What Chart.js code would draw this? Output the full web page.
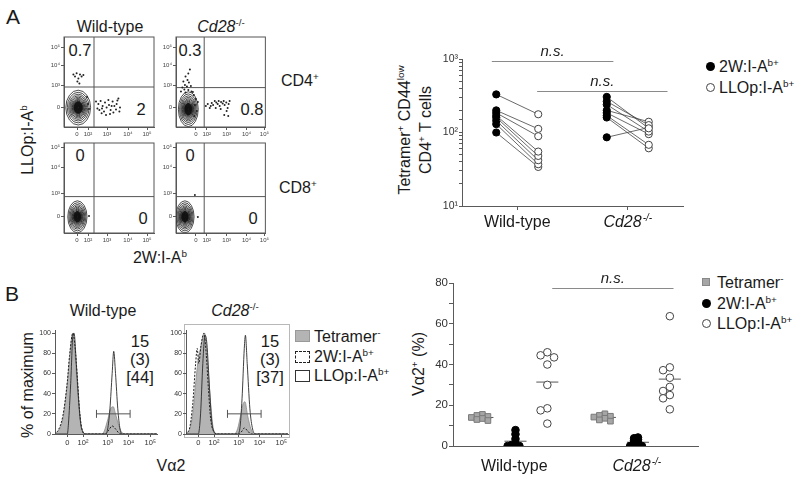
<!DOCTYPE html>
<html>
<head>
<meta charset="utf-8">
<title>2W and LLOp tetramer panels</title>
<script src="https://cdn.jsdelivr.net/npm/chart.js@4.4.1/dist/chart.umd.min.js"></script>
<style>
  body { margin: 0; width: 800px; height: 479px; position: relative; overflow: hidden; background: #fff;
         font-family: 'Liberation Sans', Arial, sans-serif; color: #1a1a1a; }
  canvas { position: absolute; }
  .c { position: absolute; white-space: nowrap; line-height: 1; transform: translate(-50%, -50%); }
  .l { position: absolute; white-space: nowrap; line-height: 1; transform: translateY(-50%); }
  .r { position: absolute; white-space: nowrap; line-height: 19px; text-align: center; transform: translate(-50%, -50%) rotate(-90deg); }
  sup { font-size: 62%; vertical-align: 0; position: relative; top: -0.6em; }
  .box { position: absolute; box-sizing: border-box; }
  .f16 { font-size: 16px; }
  .q { font-size: 16.5px; }
</style>
</head>
<body>

<!-- panel A -->
<div class="c" style="left:13px;top:16px;font-size:21px">A</div>
<div class="c f16" style="left:110px;top:27px">Wild-type</div>
<div class="c f16" style="left:221px;top:27px"><i>Cd28</i><sup>-/-</sup></div>
<div class="l f16" style="left:281px;top:81px">CD4<sup>+</sup></div>
<div class="l f16" style="left:279px;top:188px">CD8<sup>+</sup></div>
<div class="r f16" style="left:28px;top:140px">LLOp:I-A<sup>b</sup></div>
<div class="c f16" style="left:160px;top:258px">2W:I-A<sup>b</sup></div>

<div class="c q" style="left:80px;top:50px">0.7</div>
<div class="c q" style="left:141px;top:109px">2</div>
<div class="c q" style="left:190px;top:50px">0.3</div>
<div class="c q" style="left:252px;top:109px">0.8</div>
<div class="c q" style="left:80px;top:155px">0</div>
<div class="c q" style="left:143px;top:218px">0</div>
<div class="c q" style="left:190px;top:155px">0</div>
<div class="c q" style="left:253px;top:218px">0</div>

<div class="r f16" style="left:416px;top:130px">Tetramer<sup>+</sup> CD44<sup>low</sup><br>CD4<sup>+</sup> T cells</div>
<div class="box" style="left:706px;top:62px;width:9px;height:9px;border-radius:50%;background:#000"></div>
<div class="l f16" style="left:719px;top:67px">2W:I-A<sup>b+</sup></div>
<div class="box" style="left:706px;top:83px;width:9px;height:9px;border-radius:50%;border:1px solid #444"></div>
<div class="l f16" style="left:719px;top:88px">LLOp:I-A<sup>b+</sup></div>

<!-- panel B -->
<div class="c" style="left:12px;top:293px;font-size:21px">B</div>
<div class="c f16" style="left:103px;top:311px">Wild-type</div>
<div class="c f16" style="left:235px;top:311px"><i>Cd28</i><sup>-/-</sup></div>
<div class="r f16" style="left:27px;top:385px">% of maximum</div>
<div class="c f16" style="left:171px;top:466px">Vα2</div>
<div class="box" style="left:184px;top:324px;width:106px;height:114px;border:1.5px solid #b8b8b8"></div>

<div class="c q" style="left:140px;top:341px">15</div>
<div class="c q" style="left:140px;top:359px">(3)</div>
<div class="c q" style="left:140px;top:377px">[44]</div>
<div class="c q" style="left:270px;top:341px">15</div>
<div class="c q" style="left:270px;top:359px">(3)</div>
<div class="c q" style="left:270px;top:377px">[37]</div>

<div class="box" style="left:295px;top:330px;width:15px;height:12px;background:#b4b4b4;border:1px solid #999"></div>
<div class="l f16" style="left:314px;top:337px">Tetramer<sup>-</sup></div>
<div class="box" style="left:295px;top:351px;width:15px;height:12px;border:1.3px dashed #222"></div>
<div class="l f16" style="left:314px;top:357px">2W:I-A<sup>b+</sup></div>
<div class="box" style="left:295px;top:370px;width:15px;height:12px;border:1px solid #333"></div>
<div class="l f16" style="left:314px;top:376px">LLOp:I-A<sup>b+</sup></div>

<div class="r f16" style="left:419px;top:364px">Vα2<sup>+</sup> (%)</div>
<div class="box" style="left:702px;top:278px;width:8px;height:8px;background:#a6a6a6;border:1px solid #888"></div>
<div class="l f16" style="left:717px;top:283px">Tetramer<sup>-</sup></div>
<div class="box" style="left:702px;top:299px;width:9px;height:9px;border-radius:50%;background:#000"></div>
<div class="l f16" style="left:717px;top:304px">2W:I-A<sup>b+</sup></div>
<div class="box" style="left:702px;top:319px;width:9px;height:9px;border-radius:50%;border:1px solid #444"></div>
<div class="l f16" style="left:717px;top:324px">LLOp:I-A<sup>b+</sup></div>

<script>
// ---------- data ----------
// flow plots: axis positions in display units (one unit ~ a decade on the biexponential scale)
const flowXTicksWT = [0, 0.55, 1.5, 2.55, 3.5];
const flowXTicksKO = [0.35, 0.9, 1.9, 2.9, 3.8];
const flowXLabels = ['0', '10²', '10³', '10⁴', '10⁵'];
const flowYTicksCD4 = [0, 1.1, 2.1, 3.0];
const flowYTicksCD8 = [-0.15, 1.0, 2.3, 3.3];
const flowYLabels = ['0', '10³', '10⁴', '10⁵'];

// quadrant gates [x, y]
const gateWTcd4 = [0.85, 1.0];
const gateKOcd4 = [0.77, 0.97];
const gateWTcd8 = [0.85, 0.82];
const gateKOcd8 = [0.77, 0.82];

// main population contours: centre and outer half-widths
const contourWTcd4 = { center: [0.06, -0.03], radii: [0.62, 0.87] };
const contourKOcd4 = { center: [-0.03, -0.11], radii: [0.5, 0.87] };
const contourWTcd8 = { center: [0.02, -0.19], radii: [0.48, 0.8] };
const contourKOcd8 = { center: [-0.2, -0.19], radii: [0.46, 0.8] };
const contourLevels = [1, 0.88, 0.77, 0.68, 0.6, 0.53, 0.47, 0.42, 0.37, 0.33, 0.29, 0.25, 0.22, 0.19, 0.16, 0.13, 0.1, 0.07];

// events outside the contours
const dotsWTcd4 = [
  [-0.18, 1.63], [-0.02, 1.69], [0.15, 1.63], [0.32, 1.6], [-0.1, 1.52], [0.07, 1.43], [0.23, 1.52], [0.02, 1.27], [0.12, 1.18],
  [0.55, 0.15], [0.6, -0.1], [0.5, 0.5],
  [0.95, 0.27], [1.07, 0.15], [1.18, 0.3], [1.28, 0.05], [1.12, -0.15], [1.23, -0.31], [1.4, 0.22], [1.48, -0.02], [1.6, 0.1],
  [1.68, -0.15], [1.78, 0.27], [1.87, 0.05], [1.98, 0.15], [2.07, 0.43], [2.12, -0.23], [1.65, -0.35], [1.35, -0.23], [1.57, 0.35],
  [1.82, -0.28], [1.95, -0.12], [1.02, -0.07], [1.45, -0.4], [1.73, 0.05], [2.02, 0.32], [1.25, -0.08], [2.15, -0.02],
];
const dotsKOcd4 = [
  [0.05, 1.88], [-0.03, 1.68], [-0.17, 1.52], [-0.07, 1.35], [-0.28, 1.27], [0, 1.22], [-0.2, 1.1], [-0.1, 1.02], [-0.33, 0.98],
  [0.1, 1.05], [-0.23, 0.88], [-0.03, 0.85], [-0.4, 0.77], [0.13, 0.77], [-0.17, 0.72],
  [0.25, 0.6], [0.35, 0.4], [0.3, 0.1], [0.4, -0.2], [0.28, -0.45], [0.45, 0.25], [0.2, 0.75],
  [0.85, 0.05], [0.95, 0.15], [1.05, -0.05], [1.15, 0.2], [1.22, 0.1], [1.3, 0.3], [1.38, 0.22], [1.45, 0.15], [1.5, 0.3],
  [1.55, 0.05], [1.62, 0.25], [1.7, 0.18], [1.75, 0.3], [1.8, 0.1], [1.88, 0.22], [1.95, -0.05], [2.0, 0.15], [1.9, -0.2],
  [1.98, -0.45], [1.78, -0.4], [1.6, -0.1], [1.35, -0.05], [2.05, 0.3], [1.1, 0.05],
];
const dotsWTcd8 = [[0.6, -0.15]];
const dotsKOcd8 = [[0.45, -0.2], [0.3, 0.9]];

// paired counts, tetramer+ CD44low CD4+ T cells
const pairGroups = [['Wild-type', ''], ['Cd28', '-/-']];
const wt2W = [330, 200, 185, 170, 160, 145, 130, 100];
const wtLLO = [177, 112, 89, 55, 48, 42, 37, 34];
const ko2W = [305, 265, 240, 200, 185, 170, 160, 86];
const koLLO = [114, 126, 103, 140, 95, 68, 61, 117];
const pairYLabels = { 1: '10¹', 2: '10²', 3: '10³' };

// histograms: [position, % of maximum]
const histXTicks = [0, 0.7, 1.8, 2.73, 3.7];
const histXLabels = ['0', '10²', '10³', '10⁴', '10⁵'];
const histYTicks = [0, 20, 40, 60, 80, 100];
const histGate = [1.3, 2.8];
const histGateY = 20;
const wtHistTet = [[-0.6, 0], [-0.45, 2], [-0.3, 7], [-0.2, 15], [-0.1, 30], [0, 50], [0.1, 75], [0.2, 97], [0.25, 100], [0.3, 90],
  [0.4, 62], [0.5, 32], [0.6, 9], [0.7, 2], [0.85, 0], [1.55, 0], [1.65, 3], [1.8, 14], [1.95, 26], [2.05, 27], [2.15, 20],
  [2.3, 8], [2.45, 1], [2.6, 0], [4, 0]];
const wtHist2W = [[-0.6, 0], [-0.4, 4], [-0.2, 18], [0, 52], [0.1, 78], [0.25, 100], [0.35, 85], [0.45, 55], [0.55, 22], [0.65, 5],
  [0.8, 0], [1.7, 0], [1.85, 4], [2.0, 8], [2.15, 5], [2.3, 1], [2.5, 0], [4, 0]];
const wtHistLLO = [[-0.6, 0], [0, 0], [0.05, 10], [0.15, 50], [0.25, 98], [0.3, 100], [0.4, 70], [0.5, 35], [0.6, 10], [0.7, 2],
  [0.8, 0], [1.7, 0], [1.8, 5], [1.9, 25], [2.0, 60], [2.07, 82], [2.15, 60], [2.25, 25], [2.35, 5], [2.45, 0], [4, 0]];
const koHistTet = [[-0.6, 0], [-0.4, 4], [-0.25, 20], [-0.1, 55], [0, 75], [0.1, 85], [0.2, 96], [0.28, 100], [0.35, 90], [0.45, 60],
  [0.55, 30], [0.65, 8], [0.75, 1], [0.9, 0], [1.6, 0], [1.75, 5], [1.9, 20], [2.0, 30], [2.08, 32], [2.2, 18], [2.35, 5],
  [2.5, 0], [4, 0]];
const koHist2W = [[-0.6, 0], [-0.4, 5], [-0.25, 30], [-0.12, 70], [-0.05, 85], [0.02, 70], [0.12, 88], [0.25, 100], [0.35, 80],
  [0.45, 45], [0.55, 15], [0.7, 2], [0.85, 0], [1.8, 0], [1.95, 3], [2.05, 6], [2.2, 3], [2.35, 0], [4, 0]];
const koHistLLO = [[-0.6, 0], [0, 0], [0.1, 20], [0.2, 70], [0.3, 98], [0.38, 90], [0.5, 45], [0.6, 12], [0.7, 2], [0.8, 0],
  [1.75, 0], [1.85, 5], [1.95, 35], [2.05, 85], [2.1, 98], [2.18, 70], [2.3, 25], [2.42, 5], [2.55, 0], [4, 0]];

// Va2+ frequencies (%)
const pctGroups = [['Wild-type', ''], ['Cd28', '-/-']];
const wtTetNeg = [15.5, 15, 14.5, 14, 13.5, 13, 12.5];
const koTetNeg = [15.8, 15, 14.6, 14.2, 13.6, 12.8, 12.2];
const wtPct2W = [7.8, 5.8, 3.5, 1.2, 0.5, 0, 0, 0];
const koPct2W = [4.2, 3.8, 3.2, 2.6, 2.0, 1.4, 0.8, 0.3, 0, 0];
const wtPctLLO = [46, 44.5, 43.5, 40, 30, 18.5, 17.5, 11];
const koPctLLO = [63.7, 38.6, 37.2, 33.5, 29, 27, 25, 23.4, 18];

// ---------- helpers ----------
Chart.defaults.font.family = "'Liberation Sans', Arial, sans-serif";
Chart.defaults.color = '#222';
Chart.defaults.animation = false;
Chart.defaults.plugins.legend.display = false;
Chart.defaults.plugins.tooltip.enabled = false;

const FONT = "'Liberation Sans', Arial, sans-serif";
const AXIS = '#5a5a5a';
const PAIR_DX = 0.19;
const xy = (arr) => arr.map(([x, y]) => ({ x, y }));
const setTicks = (list) => (s) => { s.ticks = list.map((v) => ({ value: v })); };
const mean = (a) => a.reduce((s, v) => s + v, 0) / a.length;

function canvasAt(left, top, w, h) {
  const c = document.createElement('canvas');
  c.width = w; c.height = h;
  c.style.left = left + 'px'; c.style.top = top + 'px';
  c.style.width = w + 'px'; c.style.height = h + 'px';
  document.body.appendChild(c);
  return c;
}

// beeswarm-style horizontal dodge so equal values do not sit on top of each other
function swarm(values, center, gap, step) {
  const placed = [];
  return values.map((v) => {
    for (let k = 0; ; k++) {
      const off = (k % 2 ? -1 : 1) * Math.ceil(k / 2) * step;
      if (!placed.some((p) => Math.abs(p.off - off) < step / 2 && Math.abs(p.v - v) < gap)) {
        placed.push({ v, off });
        return { x: center + off, y: v };
      }
    }
  });
}

const framePlugin = (color, width) => ({
  id: 'frame',
  afterDraw(chart) {
    const { ctx, chartArea: a } = chart;
    ctx.save();
    ctx.strokeStyle = color; ctx.lineWidth = width;
    ctx.strokeRect(a.left, a.top, a.right - a.left, a.bottom - a.top);
    ctx.restore();
  },
});

const contourPlugin = (ct) => ({
  id: 'contour',
  beforeDatasetsDraw(chart) {
    const { ctx, chartArea: a, scales: { x, y } } = chart;
    const cx = x.getPixelForValue(ct.center[0]);
    const cy = y.getPixelForValue(ct.center[1]);
    const rx = x.getPixelForValue(ct.center[0] + ct.radii[0]) - cx;
    const ry = cy - y.getPixelForValue(ct.center[1] + ct.radii[1]);
    ctx.save();
    ctx.beginPath(); ctx.rect(a.left, a.top, a.right - a.left, a.bottom - a.top); ctx.clip();
    // dense core
    ctx.fillStyle = '#2a2a2a';
    ctx.beginPath(); ctx.ellipse(cx, cy, rx * 0.36, ry * 0.36, 0, 0, Math.PI * 2); ctx.fill();
    ctx.strokeStyle = '#111'; ctx.lineWidth = 0.75;
    contourLevels.forEach((k) => {
      ctx.beginPath();
      ctx.ellipse(cx, cy, rx * k, ry * k, 0, 0, Math.PI * 2);
      ctx.stroke();
    });
    ctx.restore();
  },
});

const bracketPlugin = (items) => ({
  id: 'brackets',
  afterDatasetsDraw(chart) {
    const { ctx, scales: { x, y } } = chart;
    ctx.save();
    items.forEach((b) => {
      const py = Math.round(y.getPixelForValue(b.y)) + 0.5;
      const x1 = x.getPixelForValue(b.x1), x2 = x.getPixelForValue(b.x2);
      ctx.strokeStyle = '#8a8a8a'; ctx.lineWidth = 1;
      ctx.beginPath(); ctx.moveTo(x1, py); ctx.lineTo(x2, py); ctx.stroke();
      ctx.fillStyle = '#222';
      ctx.font = 'italic 15px ' + FONT;
      ctx.textAlign = 'center'; ctx.textBaseline = 'alphabetic';
      ctx.fillText('n.s.', (x1 + x2) / 2, py - 6);
    });
    ctx.restore();
  },
});

// group names under the x axis, with a small superscript (genotype)
const groupLabelPlugin = (groups, offset) => ({
  id: 'groupLabels',
  afterDraw(chart) {
    const { ctx, chartArea: a, scales: { x } } = chart;
    ctx.save();
    ctx.fillStyle = '#1a1a1a'; ctx.textBaseline = 'middle'; ctx.textAlign = 'left';
    groups.forEach(([name, sup], i) => {
      const style = sup ? 'italic ' : '';
      ctx.font = style + '16px ' + FONT;
      const w1 = ctx.measureText(name).width;
      ctx.font = style + '10px ' + FONT;
      const w2 = sup ? ctx.measureText(sup).width + 1 : 0;
      const left = x.getPixelForValue(x.ticks[i].value) - (w1 + w2) / 2;
      const py = a.bottom + offset;
      ctx.font = style + '16px ' + FONT;
      ctx.fillText(name, left, py);
      if (sup) { ctx.font = style + '10px ' + FONT; ctx.fillText(sup, left + w1 + 1, py - 5); }
    });
    ctx.restore();
  },
});

function axisBase(extra) {
  return Object.assign({
    grid: { drawOnChartArea: false, color: AXIS, tickLength: 3 },
    border: { color: AXIS, width: 1 },
  }, extra);
}

// ---------- flow plots ----------
function flowChart(el, xTicks, yTicks, gate, contour, dots) {
  return new Chart(el, {
    type: 'scatter',
    data: {
      datasets: [
        { data: xy(dots), pointRadius: 1, pointBorderWidth: 0, pointBackgroundColor: '#222' },
        { type: 'line', data: [{ x: gate[0], y: -2 }, { x: gate[0], y: 5 }], borderColor: '#555', borderWidth: 1, pointRadius: 0 },
        { type: 'line', data: [{ x: -1, y: gate[1] }, { x: 5, y: gate[1] }], borderColor: '#555', borderWidth: 1, pointRadius: 0 },
      ],
    },
    options: {
      responsive: false, devicePixelRatio: 1,
      layout: { padding: { top: 6, right: 4, left: 0, bottom: 0 } },
      scales: {
        x: axisBase({
          type: 'linear', min: -0.65, max: 3.85,
          afterBuildTicks: setTicks(xTicks), afterFit: (s) => { s.height = 16; },
          ticks: { callback: (v, i) => flowXLabels[i], font: { size: 6 }, color: '#444', padding: 1, maxRotation: 0, autoSkip: false },
        }),
        y: axisBase({
          type: 'linear', min: -1, max: 3.5,
          afterBuildTicks: setTicks(yTicks), afterFit: (s) => { s.width = 20; },
          ticks: { callback: (v, i) => flowYLabels[i], font: { size: 6 }, color: '#444', padding: 1, autoSkip: false },
        }),
      },
    },
    plugins: [contourPlugin(contour), framePlugin('#555', 1)],
  });
}

flowChart(canvasAt(44, 31, 114, 112), flowXTicksWT, flowYTicksCD4, gateWTcd4, contourWTcd4, dotsWTcd4);
flowChart(canvasAt(156, 31, 114, 112), flowXTicksKO, flowYTicksCD4, gateKOcd4, contourKOcd4, dotsKOcd4);
flowChart(canvasAt(44, 137, 114, 112), flowXTicksWT, flowYTicksCD8, gateWTcd8, contourWTcd8, dotsWTcd8);
flowChart(canvasAt(156, 137, 114, 112), flowXTicksKO, flowYTicksCD8, gateKOcd8, contourKOcd8, dotsKOcd8);

// ---------- paired tetramer counts ----------
function pairSets(center, filled, open) {
  return filled.map((v, i) => ({
    data: [{ x: center - PAIR_DX, y: v }, { x: center + PAIR_DX, y: open[i] }],
    borderColor: '#444', borderWidth: 0.8,
    pointRadius: 3.6, pointBorderWidth: 1,
    pointBackgroundColor: ['#000', '#fff'],
    pointBorderColor: ['#000', '#444'],
  }));
}

new Chart(canvasAt(430, 45, 260, 190), {
  type: 'line',
  data: { datasets: [...pairSets(1, wt2W, wtLLO), ...pairSets(2, ko2W, koLLO)] },
  options: {
    responsive: false, devicePixelRatio: 1,
    layout: { padding: { top: 14, right: 7, left: 0, bottom: 0 } },
    scales: {
      x: axisBase({
        type: 'linear', min: 0.5, max: 2.5,
        afterBuildTicks: setTicks([1, 2]), afterFit: (s) => { s.height = 29; },
        grid: { drawOnChartArea: false, color: AXIS, tickLength: 4 },
        ticks: { callback: () => '', autoSkip: false },
      }),
      y: axisBase({
        type: 'logarithmic', min: 10, max: 1000,
        afterFit: (s) => { s.width = 32; },
        grid: { drawOnChartArea: false, color: AXIS, tickLength: 3 },
        ticks: {
          callback: (v) => pairYLabels[Math.round(Math.log10(v) * 1000) / 1000] || '',
          font: { size: 10.5 }, color: '#333', padding: 1, autoSkip: false,
        },
      }),
    },
  },
  plugins: [
    bracketPlugin([{ x1: 0.77, x2: 1.87, y: 940 }, { x1: 1.18, x2: 2.36, y: 367 }]),
    groupLabelPlugin(pairGroups, 17),
  ],
});

// ---------- histograms ----------
function histChart(el, tet, w2, llo) {
  const trace = { showLine: true, pointRadius: 0, cubicInterpolationMode: 'monotone', fill: false };
  return new Chart(el, {
    type: 'line',
    data: {
      datasets: [
        { data: [{ x: histGate[0], y: histGateY }, { x: histGate[1], y: histGateY }], borderColor: '#555', borderWidth: 1,
          pointStyle: 'line', rotation: 90, pointRadius: 4, pointBorderColor: '#555', pointBorderWidth: 1 },
        Object.assign({ data: xy(llo), borderColor: '#2a2a2a', borderWidth: 0.9 }, trace),
        Object.assign({ data: xy(w2), borderColor: '#1e1e1e', borderWidth: 1, borderDash: [2, 1.5] }, trace),
        Object.assign({}, trace, { data: xy(tet), borderColor: '#8c8c8c', borderWidth: 0.8, backgroundColor: '#b4b4b4', fill: 'origin' }),
      ],
    },
    options: {
      responsive: false, devicePixelRatio: 1,
      layout: { padding: { top: 3, right: 4, left: 0, bottom: 0 } },
      scales: {
        x: axisBase({
          type: 'linear', min: -0.55, max: 4.0,
          afterBuildTicks: setTicks(histXTicks), afterFit: (s) => { s.height = 16; },
          ticks: { callback: (v, i) => histXLabels[i], font: { size: 7.5 }, color: '#333', padding: 1, maxRotation: 0, autoSkip: false },
        }),
        y: axisBase({
          type: 'linear', min: 0, max: 103,
          afterBuildTicks: setTicks(histYTicks), afterFit: (s) => { s.width = 22; },
          ticks: { font: { size: 7 }, color: '#333', padding: 1, autoSkip: false },
        }),
      },
    },
  });
}

histChart(canvasAt(33, 325, 129, 125), wtHistTet, wtHist2W, wtHistLLO);
histChart(canvasAt(164, 325, 129, 125), koHistTet, koHist2W, koHistLLO);

// ---------- Va2+ frequencies ----------
function meanBar(center, values) {
  const m = mean(values);
  return { type: 'line', data: [{ x: center - 0.09, y: m }, { x: center + 0.09, y: m }], borderColor: '#555', borderWidth: 1, pointRadius: 0 };
}
const tetStyle = { pointStyle: 'rect', pointRadius: 4, pointBackgroundColor: '#a6a6a6', pointBorderColor: '#7a7a7a', pointBorderWidth: 1 };
const w2Style = { pointRadius: 3.8, pointBackgroundColor: '#000', pointBorderColor: '#000', pointBorderWidth: 1 };
const lloStyle = { pointRadius: 3.8, pointBackgroundColor: '#fff', pointBorderColor: '#444', pointBorderWidth: 1 };

const pctSets = [];
[[1, wtTetNeg, wtPct2W, wtPctLLO], [2, koTetNeg, koPct2W, koPctLLO]].forEach(([g, tet, w2, llo]) => {
  pctSets.push(Object.assign({ data: swarm(tet, g - 0.26, 1.8, 0.045) }, tetStyle));
  pctSets.push(Object.assign({ data: swarm(w2, g + 0.01, 1.0, 0.032) }, w2Style));
  pctSets.push(Object.assign({ data: swarm(llo, g + 0.27, 3.3, 0.055) }, lloStyle));
  pctSets.push(meanBar(g - 0.26, tet), meanBar(g + 0.01, w2), meanBar(g + 0.27, llo));
});

new Chart(canvasAt(420, 270, 285, 209), {
  type: 'scatter',
  data: { datasets: pctSets },
  options: {
    responsive: false, devicePixelRatio: 1,
    layout: { padding: { top: 13, right: 7, left: 0, bottom: 0 } },
    scales: {
      x: axisBase({
        type: 'linear', min: 0.5, max: 2.5,
        afterBuildTicks: setTicks([1, 2]), afterFit: (s) => { s.height = 33; },
        grid: { drawOnChartArea: false, drawTicks: false, color: AXIS },
        ticks: { callback: () => '', autoSkip: false },
      }),
      y: axisBase({
        type: 'linear', min: 0, max: 80,
        afterFit: (s) => { s.width = 33; },
        grid: { drawOnChartArea: false, color: AXIS, tickLength: 4 },
        ticks: { stepSize: 10, callback: (v) => (v % 20 === 0 ? v : ''), font: { size: 11.5 }, color: '#333', padding: 1, autoSkip: false },
      }),
    },
  },
  plugins: [bracketPlugin([{ x1: 1.31, x2: 2.3, y: 77.4 }]), groupLabelPlugin(pctGroups, 21)],
});
</script>
</body>
</html>
